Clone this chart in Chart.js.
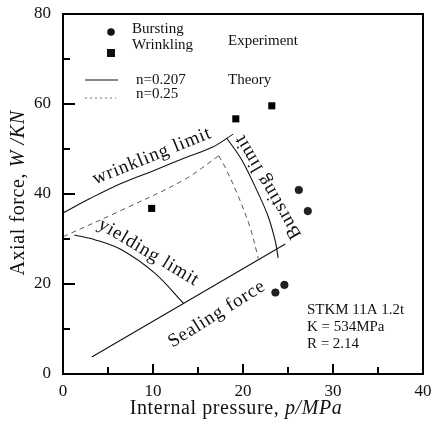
<!DOCTYPE html>
<html lang="en">
  <head>
    <meta charset="UTF-8" />
    <title>Axial force vs internal pressure</title>
    <script src="https://cdn.jsdelivr.net/npm/chart.js"></script>
    <style>
      html, body { margin: 0; padding: 0; background: #fff; }
      #wrap { width: 432px; height: 425px; }
    </style>
  </head>
  <body>
    <div id="wrap"><canvas id="forceChart"></canvas></div>

    <script>
      // experiment points (p in MPa, W in kN)
      const burstingP = [26.2, 27.2, 23.6, 24.6];
      const burstingW = [40.9, 36.2, 18.1, 19.8];
      const wrinklingP = [9.85, 19.2, 23.2];
      const wrinklingW = [36.8, 56.7, 59.6];

      // theory, n=0.207 (solid)
      const wrinkleSolidP = [0, 3, 6.5, 10.2, 13.5, 16.7, 18.9];
      const wrinkleSolidW = [35.8, 39.0, 42.4, 45.3, 48.0, 50.5, 53.3];
      const burstSolidP = [18.2, 19.85, 21.7, 22.8, 23.6, 23.9];
      const burstSolidW = [52.4, 47.6, 40.1, 35.0, 29.4, 25.8];
      const yieldP = [1.26, 3.6, 6.5, 10.2, 13.4];
      const yieldW = [30.9, 29.8, 27.6, 22.4, 15.7];
      const sealP = [3.2, 24.7];
      const sealW = [3.8, 28.9];

      // theory, n=0.25 (dashed)
      const wrinkleDashP = [0, 6.5, 13.5, 17.3];
      const wrinkleDashW = [30.5, 36.4, 43.2, 48.5];
      const burstDashP = [17.3, 18.0, 19.5, 20.8, 21.7];
      const burstDashW = [48.5, 46.0, 39.4, 32.5, 25.7];

      const xTicks = [0, 10, 20, 30, 40];
      const xMinor = [5, 15, 25, 35];
      const yTicks = [0, 20, 40, 60, 80];
      const yMinor = [10, 30, 50, 70];

      const curveLabels = ["wrinkling limit", "yielding limit", "Bursting limit", "Sealing force"];
      const materialLines = ["STKM 11A 1.2t", "K = 534MPa", "R = 2.14"];

      const SERIF = "'Liberation Serif', 'DejaVu Serif', serif";
      const pts = (xs, ys) => xs.map((x, i) => ({ x: x, y: ys[i] }));

      function curve(xs, ys, dashed) {
        return {
          data: pts(xs, ys),
          showLine: true,
          borderColor: dashed ? "#444" : "#111",
          borderWidth: dashed ? 0.9 : 1.1,
          borderDash: dashed ? [5, 4] : [],
          pointRadius: 0,
          tension: 0.35,
          fill: false,
        };
      }

      const decor = {
        id: "decor",
        afterDraw(chart) {
          const c = chart.ctx;
          const a = chart.chartArea;
          const sx = chart.scales.x, sy = chart.scales.y;
          c.save();

          // frame
          c.strokeStyle = "#000";
          c.lineWidth = 2;
          c.strokeRect(a.left, a.top, a.right - a.left, a.bottom - a.top);

          // inward ticks
          const tick = (x1, y1, x2, y2) => { c.beginPath(); c.moveTo(x1, y1); c.lineTo(x2, y2); c.stroke(); };
          xTicks.forEach(v => { const px = sx.getPixelForValue(v); tick(px, a.bottom, px, a.bottom - 10); });
          xMinor.forEach(v => { const px = sx.getPixelForValue(v); tick(px, a.bottom, px, a.bottom - 7); });
          yTicks.forEach(v => { const py = sy.getPixelForValue(v); tick(a.left, py, a.left + 12, py); });
          yMinor.forEach(v => { const py = sy.getPixelForValue(v); tick(a.left, py, a.left + 7, py); });

          c.fillStyle = "#111";

          // axis titles with italic symbols
          function mixed(parts, cx, cy) {
            c.letterSpacing = "0.6px";
            let w = 0;
            parts.forEach(p => { c.font = p[1] + " 20px " + SERIF; w += c.measureText(p[0]).width; });
            let x = cx - w / 2;
            c.textBaseline = "middle";
            c.textAlign = "left";
            parts.forEach(p => {
              c.font = p[1] + " 20px " + SERIF;
              c.fillText(p[0], x, cy);
              x += c.measureText(p[0]).width;
            });
            c.letterSpacing = "0px";
          }
          mixed([["Internal pressure, ", "normal"], ["p/MPa", "italic"]], 236, 409);
          c.save();
          c.translate(19, 193);
          c.rotate(-Math.PI / 2);
          mixed([["Axial force, ", "normal"], ["W /KN", "italic"]], 0, 0);
          c.restore();

          // legend
          const L = a.left, T = a.top;
          c.font = "15px " + SERIF;
          c.textBaseline = "middle";
          c.textAlign = "left";
          c.beginPath(); c.arc(L + 48, T + 18, 3.8, 0, Math.PI * 2); c.fill();
          c.fillRect(L + 44, T + 35, 8, 8);
          c.fillText("Bursting", L + 69, T + 15);
          c.fillText("Wrinkling", L + 69, T + 31);
          c.fillText("Experiment", L + 165, T + 27);
          c.lineWidth = 1;
          c.strokeStyle = "#111";
          tick(L + 22, T + 66, L + 55, T + 66);
          c.strokeStyle = "#777";
          c.setLineDash([2, 3]);
          tick(L + 22, T + 84, L + 53, T + 84);
          c.setLineDash([]);
          c.fillText("n=0.207", L + 73, T + 66);
          c.fillText("n=0.25", L + 73, T + 80);
          c.fillText("Theory", L + 165, T + 66);

          // curve labels
          c.font = "19px " + SERIF;
          c.letterSpacing = "0.8px";
          c.textAlign = "center";
          function rotLabel(txt, p, w, deg) {
            c.save();
            c.translate(sx.getPixelForValue(p), sy.getPixelForValue(w));
            c.rotate(deg * Math.PI / 180);
            c.fillText(txt, 0, 0);
            c.restore();
          }
          rotLabel(curveLabels[0], 9.9, 48.4, -22);
          rotLabel(curveLabels[1], 9.5, 27.0, 31);
          rotLabel(curveLabels[2], 22.8, 41.6, -120);
          rotLabel(curveLabels[3], 17.1, 13.3, -32);
          c.letterSpacing = "0px";

          // material note
          c.font = "15px " + SERIF;
          c.textAlign = "left";
          materialLines.forEach((t, i) => {
            c.fillText(t, sx.getPixelForValue(27.1), sy.getPixelForValue(14.2) + i * 17);
          });

          c.restore();
        },
      };

      new Chart(document.getElementById("forceChart"), {
        type: "scatter",
        data: {
          datasets: [
            curve(wrinkleSolidP, wrinkleSolidW, false),
            curve(burstSolidP, burstSolidW, false),
            curve(yieldP, yieldW, false),
            { ...curve(sealP, sealW, false), tension: 0 },
            curve(wrinkleDashP, wrinkleDashW, true),
            curve(burstDashP, burstDashW, true),
            {
              data: pts(burstingP, burstingW),
              pointStyle: "circle",
              pointRadius: 3.8,
              backgroundColor: "#222",
              borderColor: "#000",
              borderWidth: 0.5,
            },
            {
              data: pts(wrinklingP, wrinklingW),
              pointStyle: "rect",
              pointRadius: 5,
              backgroundColor: "#000",
              borderColor: "#000",
              borderWidth: 0,
            },
          ],
        },
        options: {
          responsive: true,
          maintainAspectRatio: false,
          animation: false,
          layout: { padding: { top: 14, right: 9, left: 0, bottom: 0 } },
          plugins: { legend: { display: false }, tooltip: { enabled: false } },
          scales: {
            x: {
              type: "linear",
              min: 0,
              max: 40,
              grid: { display: false, drawTicks: false },
              border: { display: false },
              afterFit: s => { s.height = 51; s.paddingLeft = 0; s.paddingRight = 0; },
              afterBuildTicks: s => { s.ticks = xTicks.map(v => ({ value: v })); },
              ticks: { color: "#111", padding: 7, font: { family: SERIF, size: 17 } },
            },
            y: {
              type: "linear",
              min: 0,
              max: 80,
              grid: { display: false, drawTicks: false },
              border: { display: false },
              afterFit: s => { s.width = 63; s.paddingTop = 0; s.paddingBottom = 0; },
              afterBuildTicks: s => { s.ticks = yTicks.map(v => ({ value: v })); },
              ticks: { color: "#111", padding: 12, font: { family: SERIF, size: 17 } },
            },
          },
        },
        plugins: [decor],
      });
    </script>
  </body>
</html>
